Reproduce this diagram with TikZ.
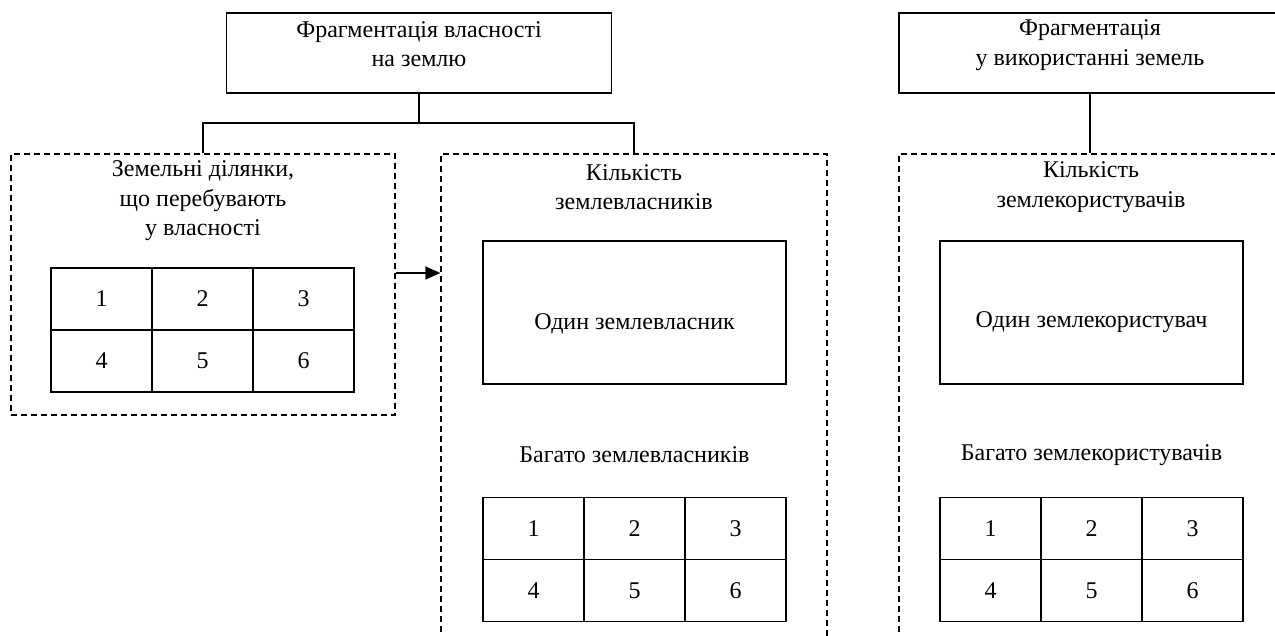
\documentclass[tikz,border=0pt]{standalone}
\usepackage{fontspec}
\setmainfont{Liberation Serif}
\usetikzlibrary{arrows.meta}
\begin{document}
\begin{tikzpicture}[x=1pt,y=-1pt,
  solidbox/.style={draw,line width=1.8pt,inner sep=0pt},
  dashbox/.style={draw,line width=1.3pt,dash pattern=on 6pt off 4pt,inner sep=0pt},
  lbl/.style={align=center,inner sep=0pt,font=\fontsize{24}{29.5}\selectfont},
  cell/.style={solidbox,minimum width=101pt,minimum height=62pt,font=\fontsize{24}{29}\selectfont},
  conn/.style={line width=1.8pt},
]
\useasboundingbox (0,0) rectangle (1275,635);
\clip (0,0) rectangle (1275,635);

% top boxes
\node[solidbox,minimum width=385pt,minimum height=80pt] (top1) at (419,53) {};
\node[lbl] (top1t) at (419,44) {Фрагментація власності\\на землю};
\node[solidbox,minimum width=382pt,minimum height=80pt] (top2) at (1090,53) {};
\node[lbl] (top2t) at (1090,45) {Фрагментація\\у використанні земель};

% dashed containers
\node[dashbox,minimum width=384pt,minimum height=261pt] (ldash) at (203,284.5) {};
\node[dashbox,minimum width=386pt,minimum height=546pt] (mdash) at (634,427) {};
\node[dashbox,minimum width=386pt,minimum height=546pt] (rdash) at (1092,427) {};

% container titles
\node[lbl] (lt) at (203,201) {Земельні ділянки,\\що перебувають\\у власності};
\node[lbl] (mt) at (634,187) {Кількість\\землевласників};
\node[lbl] (rt) at (1091,187) {Кількість\\землекористувачів};

% inner boxes
\node[solidbox,minimum width=303pt,minimum height=143pt] (mone) at (634.5,312.5) {};
\node[lbl] (monet) at (634.5,324) {Один землевласник};
\node[solidbox,minimum width=303pt,minimum height=143pt] (rone) at (1091.5,312.5) {};
\node[lbl] (ronet) at (1091.5,322) {Один землекористувач};
\node[lbl] (mmany) at (634.5,455) {Багато землевласників};
\node[lbl] (rmany) at (1091.5,455) {Багато землекористувачів};

% tables
\foreach \pre/\cx/\cy in {l/202.5/299, m/634.5/528.5, r/1091.5/528.5}{
  \node[cell] (\pre1) at (\cx-101,\cy) {1};
  \node[cell] (\pre2) at (\cx,\cy) {2};
  \node[cell] (\pre3) at (\cx+101,\cy) {3};
  \node[cell] (\pre4) at (\cx-101,\cy+62) {4};
  \node[cell] (\pre5) at (\cx,\cy+62) {5};
  \node[cell] (\pre6) at (\cx+101,\cy+62) {6};
}

% connectors
\coordinate (j1) at (top1.south |- 0,123);
\draw[conn] (top1.south) -- (j1);
\draw[conn] (ldash.north) |- (j1) -| (mdash.north);
\draw[conn] (top2.south) -- (top2.south |- rdash.north);
\coordinate (ar) at (0,273);
\draw[line width=1.5pt,-{Triangle[length=15pt,width=13pt]}] (ldash.east |- ar) -- (mdash.west |- ar);
\end{tikzpicture}
\end{document}
